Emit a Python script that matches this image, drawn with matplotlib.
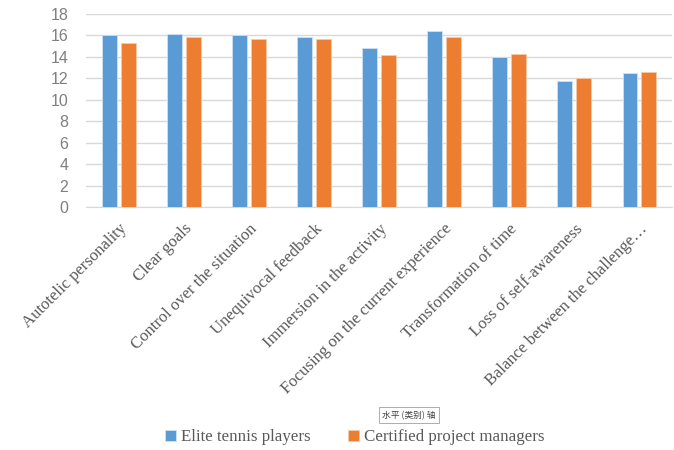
import matplotlib
matplotlib.use('Agg')
import matplotlib.pyplot as plt
import numpy as np

# 数据
categories = ['Autotelic personality', 'Clear goals', 'Control over the situation',
              'Unequivocal feedback', 'Immersion in the activity',
              'Focusing on the current experience', 'Transformation of time',
              'Loss of self-awareness', 'Balance between the challenge\u2026']
tennis = [16.0, 16.15, 16.0, 15.85, 14.8, 16.45, 14.0, 11.75, 12.45]
managers = [15.3, 15.85, 15.65, 15.65, 14.15, 15.85, 14.3, 12.0, 12.55]
series_names = ['Elite tennis players', 'Certified project managers']
yticks = list(range(0, 19, 2))

blue = '#5B9BD5'
orange = '#ED7D31'
grey = '#595959'

fig = plt.figure(figsize=(6.74, 4.5), dpi=100)
ax = fig.add_axes([0.128, 0.54, 0.869, 0.429])

x = np.arange(len(categories))
w = 0.23
ax.bar(x - 0.145, tennis, w, color=blue, edgecolor='#cfe0f2', linewidth=0.6, label=series_names[0], zorder=3)
ax.bar(x + 0.145, managers, w, color=orange, edgecolor='#f8c9a8', linewidth=0.6, label=series_names[1], zorder=3)

ax.set_xlim(-0.5, len(categories) - 0.5)
ax.set_ylim(0, 18)
ax.set_yticks(yticks)
ax.yaxis.grid(True, color='#d9d9d9', linewidth=1, zorder=0)
for s in ['left', 'right', 'top']:
    ax.spines[s].set_visible(False)
ax.spines['bottom'].set_color('#d9d9d9')
ax.tick_params(axis='both', length=0)
ax.tick_params(axis='y', labelsize=11.5, labelcolor='#7f7f7f', pad=13)
for lab in ax.get_yticklabels():
    lab.set_family('Liberation Sans')

ax.set_xticks(x)
ax.set_xticklabels(categories, rotation=45, ha='right', rotation_mode='anchor',
                   fontsize=12, color=grey, family='Liberation Serif')
ax.tick_params(axis='x', pad=10)

# 图例
leg = fig.legend(loc='center', bbox_to_anchor=(0.527, 0.028), ncol=2, frameon=False,
                 prop={'family': 'Liberation Serif', 'size': 12.2},
                 handlelength=0.65, handleheight=0.65, handletextpad=0.3, columnspacing=2.2)
for t in leg.get_texts():
    t.set_color(grey)

# 提示框
fig.text(0.607, 0.077, '水平 (类别) 轴', fontsize=6.3, color='#404040',
         family=['Noto Sans CJK SC', 'DejaVu Sans'], ha='center', va='center',
         bbox=dict(boxstyle='square,pad=0.4', facecolor='white', edgecolor='#a0a0a0', linewidth=0.6))

fig.savefig('out.png', dpi=100)
